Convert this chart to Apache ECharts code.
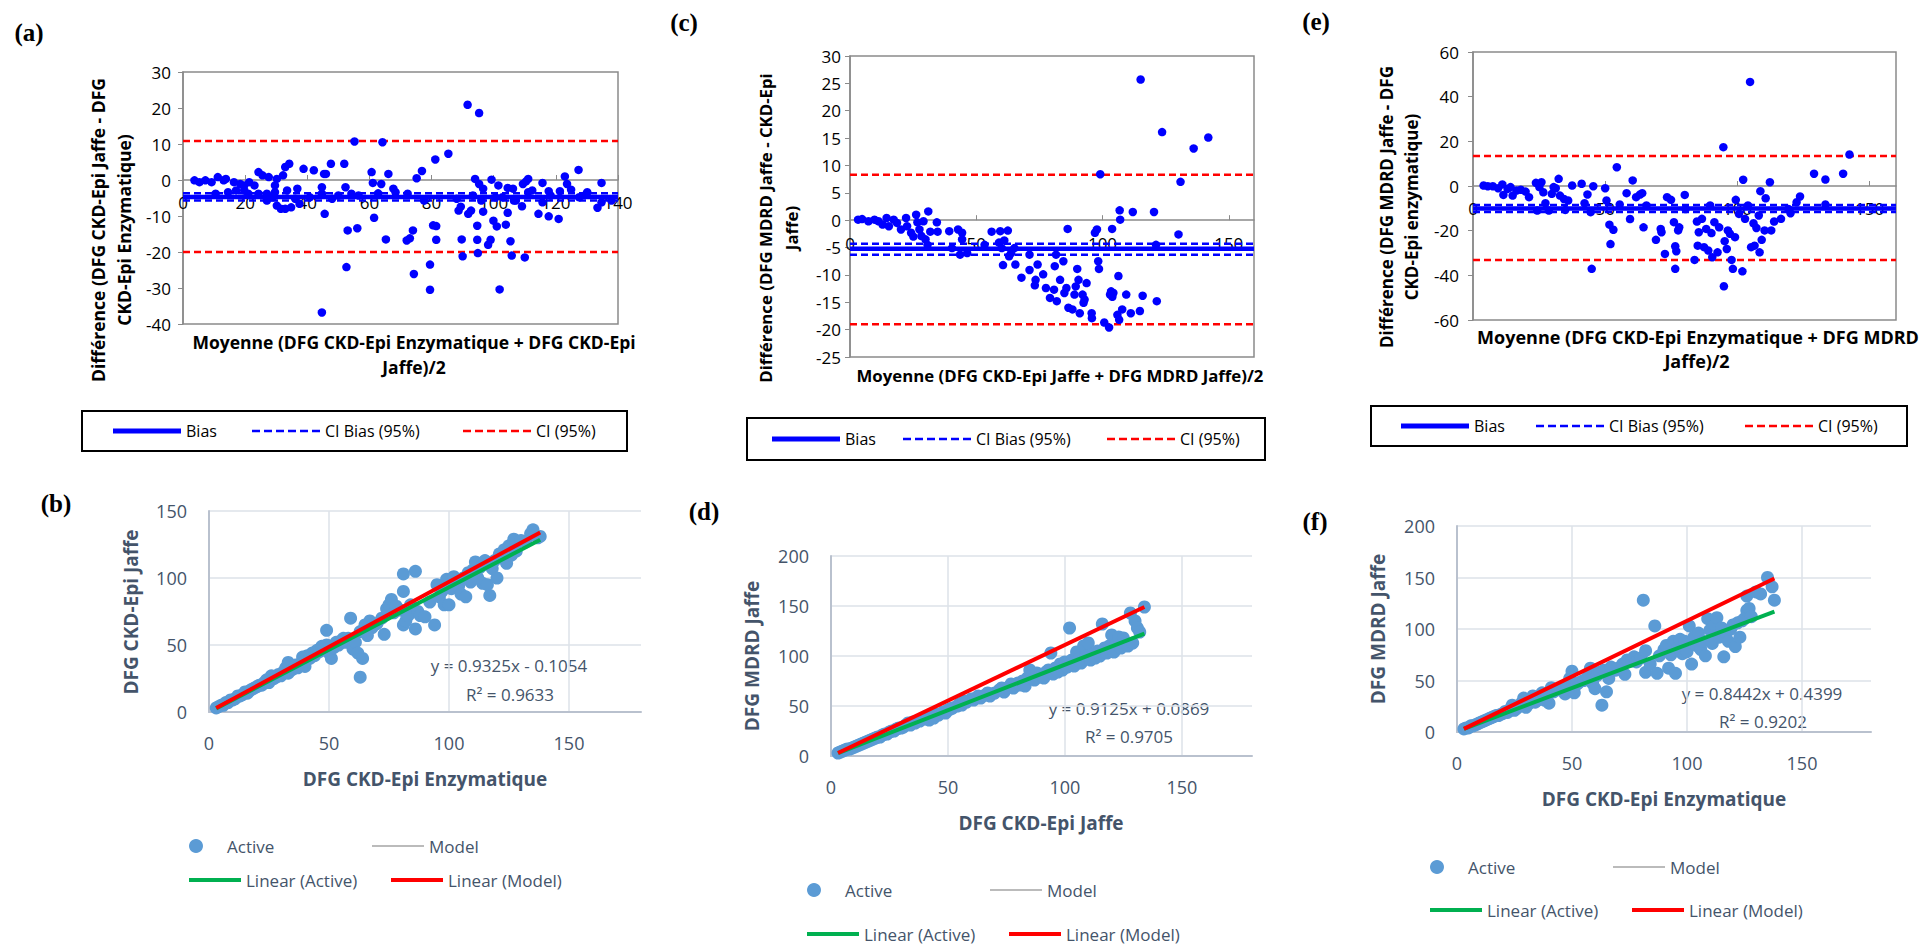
<!DOCTYPE html>
<html>
<head>
<meta charset="utf-8">
<script src="https://cdn.jsdelivr.net/npm/echarts@6.0.0/dist/echarts.min.js"></script>
<style>
  html, body { margin: 0; padding: 0; background: #fff; }
  #chart { width: 1919px; height: 944px; }
</style>
</head>
<body>
<div id="chart"></div>
<script>
// ---- Bland-Altman panels: [mean, difference] ----
const ptsA = [
  [3.7,-0.1],[5.3,-0.6],[7.2,-0.1],[9.2,-0.6],[11.2,0.8],[13.1,-0.1],[13.8,0.3],[16.4,-0.6],[18.4,-1.1],[19.7,-1.5],
  [21.3,-0.6],[23.0,-1.5],[24.3,2.2],[25.6,1.3],[27.6,0.8],[30.2,0.3],[32.2,1.3],[32.9,3.6],[34.2,4.5],[10.5,-3.8],
  [14.5,-3.4],[17.1,-2.9],[19.7,-2.9],[21.0,-3.8],[24.3,-3.8],[27.0,-3.8],[27.0,-5.7],[28.9,-4.8],[29.6,-1.5],[29.6,-3.4],
  [30.2,-7.1],[31.5,-8.0],[32.9,-8.0],[33.5,-2.9],[34.8,-7.6],[36.1,-5.2],[36.8,-2.4],[37.5,-6.6],[38.8,3.1],[42.1,2.7],
  [44.7,-2.0],[44.7,-3.8],[45.4,1.7],[46.0,1.7],[45.6,-9.4],[44.7,-36.8],[47.6,4.5],[48.0,-5.2],[51.9,4.5],[52.3,-2.0],
  [53.0,-14.0],[52.6,-24.2],[54.2,-3.8],[55.2,10.7],[56.1,-13.4],[60.7,2.2],[61.1,-0.8],[61.5,-10.5],[62.8,-3.7],[63.8,-1.1],
  [64.2,10.5],[65.3,-16.5],[66.1,1.7],[67.7,-2.4],[68.4,-3.4],[72.0,-16.8],[73.0,-16.2],[74.0,-14.0],[74.3,-26.1],[75.2,0.5],
  [76.9,2.5],[79.5,-23.5],[79.5,-30.5],[80.5,-12.6],[81.2,5.7],[81.5,-12.8],[81.5,-16.6],[85.4,7.3],[88.7,-8.5],[89.4,-7.4],
  [89.7,-16.5],[90.0,-21.2],[91.6,20.9],[91.8,-9.4],[92.7,-8.5],[93.3,-4.3],[94.0,0.3],[94.7,-12.7],[94.7,-16.6],[94.9,-20.3],
  [95.3,18.6],[95.3,-1.1],[96.6,-8.8],[96.6,-2.4],[98.2,-18.0],[99.0,-16.6],[99.3,0.1],[100.6,-4.8],[101.0,-12.9],[101.5,-1.5],
  [101.9,-30.4],[102.8,-4.8],[103.9,-12.4],[104.5,-9.1],[104.5,-2.2],[105.4,-17.0],[105.8,-21.0],[106.2,-2.4],[107.1,-5.7],[109.1,-7.3],
  [109.4,-1.1],[110.0,-21.5],[110.4,-0.4],[111.1,0.3],[111.1,-3.4],[112.4,-2.9],[114.4,-9.4],[115.7,-0.8],[117.7,-3.1],[117.7,-10.1],
  [118.3,-4.3],[120.9,-10.8],[121.3,-3.1],[122.9,1.0],[123.6,-1.1],[124.9,-2.7],[127.3,2.8],[129.7,-4.0],[133.4,-7.7],[134.7,-0.8],
  [134.7,-6.2],[40.8,-4.8],[50.0,-4.3],[56.5,-4.3],[72.3,-3.8],[77.6,-5.7],[88.1,-5.2],[96.0,-5.7],[106.5,-5.7],[115.7,-6.2],
  [127.5,-4.8],[137.9,-5.7],[130.1,-3.4],[99.9,-11.3]
];
const ptsC = [
  [3.2,0.1],[4.8,0.2],[7.3,-0.2],[9.7,0.1],[11.3,-0.2],[12.9,-0.8],[14.5,0.4],[15.4,-1.1],[17.3,0.1],[18.6,-0.5],
  [20.2,-1.7],[22.2,0.4],[22.6,-1.1],[24.2,-2.3],[25.1,-3.0],[26.2,1.0],[26.7,-0.4],[27.5,-1.7],[28.3,-2.9],[29.1,-0.2],
  [29.9,-3.5],[30.7,-4.5],[31.0,1.6],[31.8,-2.1],[34.4,-0.4],[34.7,-2.1],[39.3,-2.0],[40.4,-5.1],[42.8,-1.7],[43.6,-6.3],
  [44.4,-2.3],[44.4,-3.5],[46.4,-6.0],[53.3,-4.5],[56.1,-2.1],[59.0,-4.1],[59.5,-2.0],[60.1,-5.1],[60.6,-8.2],[61.1,-3.7],
  [62.5,-1.9],[63.0,-6.6],[63.8,-6.0],[65.1,-5.1],[65.5,-8.1],[67.9,-10.5],[71.1,-6.3],[71.1,-9.1],[73.2,-11.9],[73.5,-10.9],
  [74.3,-8.1],[76.5,-9.9],[77.6,-12.4],[79.2,-14.2],[80.8,-12.7],[81.1,-8.4],[81.6,-6.3],[81.9,-14.8],[83.2,-10.9],[84.5,-7.5],
  [84.9,-13.3],[85.7,-12.4],[86.2,-1.6],[86.5,-16.0],[88.1,-16.3],[88.9,-13.6],[89.4,-12.1],[90.0,-8.9],[90.5,-10.9],[91.0,-17.0],
  [92.1,-13.6],[92.5,-15.1],[92.9,-14.5],[93.7,-11.5],[95.7,-17.0],[95.8,-17.9],[97.0,-2.3],[97.8,-1.7],[98.3,-7.5],[98.6,-8.9],
  [99.1,8.4],[100.7,-18.7],[102.6,-19.6],[103.0,-13.6],[103.4,-13.0],[103.8,-1.6],[103.9,-14.0],[104.3,-13.3],[105.9,-17.3],[106.3,-10.2],
  [106.6,-18.2],[106.8,1.8],[107.0,0.1],[107.8,-16.3],[109.4,-13.6],[111.2,-17.0],[112.0,1.5],[114.8,-16.6],[115.1,25.7],[115.9,-13.8],
  [120.4,1.5],[121.2,-4.5],[121.5,-14.8],[123.6,16.1],[130.1,-2.6],[130.9,7.0],[136.1,13.1],[141.9,15.1]
];
const ptsE = [
  [4.0,0.2],[5.6,-0.1],[7.5,-0.1],[9.5,-1.0],[11.1,0.7],[11.5,-4.0],[13.1,-1.3],[14.2,-0.5],[15.0,-4.3],[16.5,-2.0],
  [18.1,-1.7],[19.9,-2.5],[21.2,-5.0],[23.8,1.4],[25.1,-0.5],[25.9,1.7],[26.6,-2.8],[27.4,-7.7],[28.7,-11.0],[29.8,-3.5],
  [30.5,-0.5],[31.3,-1.0],[32.4,3.2],[32.9,-4.3],[34.4,-5.8],[34.9,-10.7],[36.0,-6.5],[37.5,0.2],[41.1,1.0],[42.2,-7.7],
  [43.3,-3.8],[44.5,-11.7],[44.9,-37.1],[45.5,-0.1],[50.0,-1.0],[50.5,-6.5],[51.6,-17.3],[52.0,-26.0],[53.1,-19.6],[54.4,8.4],
  [55.5,-8.3],[58.1,-3.2],[59.4,-14.8],[60.4,2.5],[61.7,-5.0],[63.2,-3.8],[64.0,-3.2],[64.5,-18.5],[65.6,-8.7],[69.2,-24.1],
  [71.0,-19.2],[71.3,-20.7],[72.6,-30.4],[73.4,-5.0],[74.9,-6.2],[76.0,-16.2],[76.5,-27.0],[76.5,-37.1],[76.9,-29.2],[77.6,-19.9],
  [78.0,-18.5],[80.1,-4.0],[83.8,-33.1],[84.7,-15.9],[85.0,-26.7],[85.4,-20.7],[86.6,-14.7],[87.4,-27.4],[88.2,-19.2],[89.0,-28.9],
  [89.7,-8.7],[90.2,-21.1],[90.5,-31.9],[91.3,-16.2],[92.5,-29.7],[93.1,-18.5],[94.7,17.4],[94.9,-44.9],[95.2,-24.7],[96.0,-28.2],
  [96.4,-19.9],[97.2,-21.4],[97.8,-33.1],[98.3,-37.1],[99.1,-22.9],[99.4,-6.2],[100.6,-12.5],[101.9,-38.2],[102.2,2.8],[102.9,-14.7],
  [104.0,-8.7],[104.8,46.6],[105.2,-27.4],[106.1,-16.7],[106.5,-26.7],[107.2,-18.8],[108.1,-13.2],[108.4,-29.7],[108.7,-2.3],[109.2,-24.1],
  [110.3,-19.9],[110.7,-5.5],[112.3,1.7],[112.8,-19.9],[113.9,-15.9],[116.5,-14.7],[120.1,-12.2],[122.4,-7.3],[123.7,-4.7],[129.0,5.5],
  [133.3,2.9],[133.3,-8.3],[140.0,5.5],[142.4,14.1],[24.3,-11.0],[80.4,-10.3],[119.3,-10.3]
];

// bias, CI of bias and limits of agreement
const biasA = -4.7, ciBiasA = [-5.7, -3.7], loaA = [-20.0, 10.8];
const biasC = -5.2, ciBiasC = [-6.3, -4.3], loaC = [-19.0, 8.3];
const biasE = -10.1, ciBiasE = [-11.6, -8.5], loaE = [-33.1, 13.4];

// axis ranges (min, max, step)
const axA = { x: [0, 140, 20], y: [-40, 30, 10] };
const axC = { x: [0, 160, 50], y: [-25, 30, 5] };
const axE = { x: [0, 160, 50], y: [-60, 60, 20] };

// ---- Correlation panels: [x, y] ----
const ptsB = [
  [3,3],[4,4],[5,5],[6,5],[7,7],[8,7],[9,9],[10,9],[11,10],[12,12],[13,12],[14,13],[15,15],[16,14],[17,16],[18,17],
  [19,18],[20,19],[21,20],[22,20],[23,22],[24,24],[25,22],[26,27],[27,25],[28,26],[29,28],[30,27],[31,30],[32,33],
  [33,37],[33,29],[34,31],[35,32],[36,35],[37,33],[38,36],[39,41],[40,34],[40,38],[41,42],[42,40],[43,44],[44,42],
  [45,46],[46,45],[47,49],[48,47],[49,50],[49,61],[50,44],[51,40],[52,48],[53,52],[54,50],[55,53],[56,55],[57,52],
  [58,55],[59,70],[60,47],[61,52],[62,44],[63,26],[63,60],[64,40],[65,65],[66,57],[67,68],[68,63],[70,66],[72,70],
  [73,58],[74,77],[75,80],[76,84],[77,74],[78,79],[80,76],[81,103],[81,90],[81,65],[82,68],[83,72],[84,80],[86,105],
  [86,62],[87,75],[88,72],[90,71],[92,82],[94,65],[95,95],[96,86],[97,90],[98,80],[99,99],[100,80],[101,92],[102,101],
  [103,96],[104,94],[105,88],[106,100],[107,86],[108,104],[109,97],[110,106],[111,112],[112,100],[113,108],[114,96],
  [115,113],[116,95],[117,87],[118,107],[119,113],[120,100],[121,118],[122,115],[123,121],[124,111],[125,124],[126,117],
  [127,129],[128,120],[130,128],[132,127],[134,133],[135,136],[137,130],[138,131]
];
const ptsD = [
  [3,3],[4,4],[5,5],[6,6],[7,7],[8,7],[9,8],[10,9],[11,10],[12,11],[13,12],[14,13],[15,14],[16,15],[17,16],[18,17],
  [19,18],[20,19],[21,19],[22,21],[23,22],[24,22],[25,24],[26,25],[27,25],[28,27],[29,28],[30,28],[31,29],[32,31],
  [33,33],[34,31],[35,34],[36,33],[37,35],[38,35],[40,37],[41,39],[42,36],[43,40],[44,38],[45,42],[46,41],[48,44],
  [49,43],[50,46],[51,47],[52,48],[54,50],[55,52],[56,51],[57,55],[58,54],[60,57],[61,56],[62,58],[63,60],[64,58],
  [66,61],[67,63],[68,60],[70,63],[72,66],[73,68],[74,64],[76,69],[77,72],[78,68],[80,73],[81,71],[82,75],[83,70],
  [84,78],[85,86],[86,80],[87,76],[88,83],[89,79],[90,81],[91,78],[92,84],[93,86],[94,103],[95,82],[96,88],[97,84],
  [98,92],[99,86],[100,94],[101,89],[102,128],[103,96],[104,90],[105,104],[106,97],[107,93],[108,110],[109,100],[110,113],
  [111,96],[112,102],[113,98],[114,105],[115,100],[116,132],[117,108],[118,103],[119,110],[120,121],[121,104],[122,112],
  [123,119],[124,108],[125,118],[127,110],[128,143],[129,113],[130,135],[131,128],[132,124],[134,149]
];
const ptsF = [
  [3,3],[4,4],[5,4],[6,6],[7,6],[8,7],[9,8],[10,9],[11,10],[12,11],[13,12],[14,13],[15,14],[16,15],[17,16],[18,16],
  [19,17],[20,18],[21,20],[22,19],[23,22],[24,26],[25,21],[26,23],[27,25],[28,28],[29,33],[30,24],[31,27],[32,30],
  [33,35],[34,29],[35,31],[36,33],[37,38],[38,31],[39,36],[40,28],[41,43],[42,39],[44,41],[46,44],[47,37],[48,46],
  [49,52],[50,59],[51,38],[52,46],[53,48],[55,50],[57,54],[58,62],[59,47],[60,42],[61,55],[62,58],[63,26],[64,60],
  [65,39],[66,52],[67,63],[69,60],[70,62],[72,66],[73,56],[74,70],[76,69],[77,73],[78,68],[80,72],[81,128],[82,58],
  [82,79],[84,66],[86,103],[87,57],[88,74],[90,80],[91,84],[92,62],[93,75],[94,88],[95,57],[96,82],[97,90],[98,76],
  [99,88],[100,78],[101,103],[102,66],[103,92],[104,84],[105,96],[106,80],[107,88],[108,74],[109,110],[110,99],[111,86],
  [112,104],[113,111],[114,92],[115,101],[116,73],[117,96],[118,88],[119,100],[120,104],[121,83],[122,106],[123,92],
  [124,108],[125,110],[126,118],[126,132],[127,120],[128,112],[130,136],[132,134],[135,150],[137,141],[138,128]
];

// "Model" line end points and the fitted line of "Active"
const modelB = [[3, 3], [138, 134]];
const modelD = [[3, 3], [134, 149]];
const modelF = [[3, 3], [138, 149]];
const fitB = { slope: 0.9325, intercept: -0.1054, r2: 0.9633 };
const fitD = { slope: 0.9125, intercept: 0.0869, r2: 0.9705 };
const fitF = { slope: 0.8442, intercept: 0.4399, r2: 0.9202 };
const yMaxScatter = { b: 150, d: 200, f: 200 };

const FONT = '"Open Sans", "Noto Sans", sans-serif';
const SLATE = '#44546a';
const FRAME = '#8a8a8a';

function dashIcon(n, dash, gap, h) {
  let p = 'path://';
  for (let i = 0; i < n; i++) {
    const x = i * (dash + gap);
    p += 'M' + x + ',0h' + dash + 'v' + h + 'h-' + dash + 'z';
  }
  return p;
}
const ICON_BIAS = 'path://M0,0h68v5h-68z';
const ICON_DASH = dashIcon(6, 8, 4, 2.5);
const ICON_THIN = 'path://M0,0h52v1.5h-52z';
const ICON_FIT = 'path://M0,0h52v4h-52z';

const grids = [];
const xAxes = [];
const yAxes = [];
const series = [];
const legends = [];

function baPanel(box, ax, pts, bias, ciBias, loa, lab, leg) {
  const i = grids.length;
  grids.push({ left: box[0], top: box[1], width: box[2], height: box[3], show: true,
    borderColor: FRAME, borderWidth: 1.5, backgroundColor: 'transparent' });
  // the horizontal axis sits on the zero line, as in the original
  const zeroOffset = -box[3] * (0 - ax.y[0]) / (ax.y[1] - ax.y[0]);
  xAxes.push({ gridIndex: i, type: 'value', position: 'bottom', offset: zeroOffset,
    min: ax.x[0], max: ax.x[1], interval: ax.x[2],
    axisLine: { show: true, onZero: false, lineStyle: { color: FRAME, width: 1.5 } },
    axisTick: { show: true, inside: true, length: 5, lineStyle: { color: FRAME } },
    axisLabel: { margin: lab.xm, color: '#000', fontFamily: FONT, fontSize: lab.fs, showMaxLabel: ax.x[1] % ax.x[2] === 0 },
    splitLine: { show: false } });
  yAxes.push({ gridIndex: i, type: 'value', min: ax.y[0], max: ax.y[1], interval: ax.y[2],
    axisLine: { show: true, onZero: false, lineStyle: { color: FRAME, width: 1.5 } },
    axisTick: { show: true, length: 5, lineStyle: { color: FRAME } },
    axisLabel: { margin: lab.ym, color: '#000', fontFamily: FONT, fontSize: lab.fs },
    splitLine: { show: false } });
  const xr = [ax.x[0], ax.x[1]];
  const hline = (v) => xr.map((x) => [x, v]);
  const lineSeries = (name, v, color, width, type, z) => ({
    type: 'line', name, xAxisIndex: i, yAxisIndex: i, data: hline(v), showSymbol: false, symbol: 'none',
    itemStyle: { color }, lineStyle: { color, width, type }, z, silent: true
  });
  series.push(lineSeries('CI (95%)', loa[0], '#ff0000', 2.5, [7, 4], 2));
  series.push(lineSeries('CI (95%)', loa[1], '#ff0000', 2.5, [7, 4], 2));
  series.push(lineSeries('Bias', bias, '#0000ff', 4.5, 'solid', 3));
  series.push(lineSeries('CI Bias (95%)', ciBias[0], '#0000ff', 2.5, [7, 4], 3));
  series.push(lineSeries('CI Bias (95%)', ciBias[1], '#0000ff', 2.5, [7, 4], 3));
  series.push({ type: 'scatter', name: 'diff' + i, xAxisIndex: i, yAxisIndex: i, data: pts,
    symbolSize: 8.5, itemStyle: { color: '#0000ff', opacity: 1 }, z: 5 });
  legends.push({ left: leg.left, top: leg.top, orient: 'horizontal', selectedMode: false,
    padding: [leg.pv, leg.pr, leg.pv, leg.pl], itemGap: 0, itemWidth: 68, itemHeight: 14,
    borderColor: '#000', borderWidth: 2, itemStyle: { borderWidth: 0 },
    textStyle: { fontFamily: FONT, fontSize: 16, color: '#000', lineHeight: 20 },
    data: [
      { name: 'Bias', icon: ICON_BIAS, textStyle: { width: leg.w[0] } },
      { name: 'CI Bias (95%)', icon: ICON_DASH, textStyle: { width: leg.w[1] } },
      { name: 'CI (95%)', icon: ICON_DASH, textStyle: { width: leg.w[2] } }
    ] });
}

function corrPanel(box, yMax, pts, model, fit, leg) {
  const i = grids.length;
  grids.push({ left: box[0], top: box[1], width: box[2], height: box[3] });
  xAxes.push({ gridIndex: i, type: 'value', min: 0, max: 180, interval: 50,
    axisLine: { show: true, lineStyle: { color: '#b9c1ce', width: 2 } },
    axisTick: { show: false },
    axisLabel: { margin: 22, color: SLATE, fontFamily: FONT, fontSize: 18, showMaxLabel: false },
    splitLine: { show: true, lineStyle: { color: ['#dde2e9', '#dde2e9', '#dde2e9', '#dde2e9', 'rgba(0,0,0,0)'], width: 1.5 } } });
  yAxes.push({ gridIndex: i, type: 'value', min: 0, max: yMax, interval: 50,
    axisLine: { show: true, lineStyle: { color: '#b9c1ce', width: 2 } },
    axisTick: { show: false },
    axisLabel: { margin: 22, color: SLATE, fontFamily: FONT, fontSize: 18 },
    splitLine: { show: true, lineStyle: { color: '#dde2e9', width: 1.5 } } });
  const xs = pts.map((p) => p[0]);
  const x0 = Math.min(...xs), x1 = Math.max(...xs);
  const fitLine = [x0, x1].map((x) => [x, fit.slope * x + fit.intercept]);
  series.push({ type: 'scatter', name: 'Active', xAxisIndex: i, yAxisIndex: i, data: pts,
    symbolSize: 13, itemStyle: { color: '#5b9bd5', opacity: 1 }, z: 2 });
  series.push({ type: 'line', name: 'Model', xAxisIndex: i, yAxisIndex: i, data: model, symbol: 'none',
    itemStyle: { color: '#a5a5a5' }, lineStyle: { color: '#a5a5a5', width: 1.5 }, z: 3, silent: true });
  series.push({ type: 'line', name: 'Linear (Active)', xAxisIndex: i, yAxisIndex: i, data: fitLine, symbol: 'none',
    itemStyle: { color: '#00b050' }, lineStyle: { color: '#00b050', width: 4 }, z: 4, silent: true });
  series.push({ type: 'line', name: 'Linear (Model)', xAxisIndex: i, yAxisIndex: i, data: model, symbol: 'none',
    itemStyle: { color: '#ff0000' }, lineStyle: { color: '#ff0000', width: 4 }, z: 5, silent: true });
  const common = { orient: 'horizontal', selectedMode: false, padding: 0, itemGap: 5, itemWidth: 52, itemHeight: 14,
    itemStyle: { borderWidth: 0 }, textStyle: { fontFamily: FONT, fontSize: 17, color: SLATE, lineHeight: 22 } };
  legends.push(Object.assign({}, common, { left: leg.left, top: leg.row1 - 11,
    data: [
      { name: 'Active', icon: 'circle', textStyle: { width: 140 } },
      { name: 'Model', icon: ICON_THIN, textStyle: { width: 80 } }
    ] }));
  legends.push(Object.assign({}, common, { left: leg.left, top: leg.row2 - 11,
    data: [
      { name: 'Linear (Active)', icon: ICON_FIT, textStyle: { width: 140 } },
      { name: 'Linear (Model)', icon: ICON_FIT, textStyle: { width: 150 } }
    ] }));
}

baPanel([183, 72, 435, 252], axA, ptsA, biasA, ciBiasA, loaA, { xm: 14, ym: 12, fs: 17 },
  { left: 82, top: 411, pv: 10, pl: 31, pr: 21, w: [66, 138, 70] });
baPanel([850, 56, 404, 301], axC, ptsC, biasC, ciBiasC, loaC, { xm: 15, ym: 9, fs: 17 },
  { left: 747, top: 418, pv: 11, pl: 25, pr: 15, w: [58, 131, 70] });
baPanel([1473, 52, 423, 268], axE, ptsE, biasE, ciBiasE, loaE, { xm: 14, ym: 14, fs: 17 },
  { left: 1371, top: 406, pv: 10, pl: 30, pr: 19, w: [62, 136, 70] });

corrPanel([209, 511, 432, 201], yMaxScatter.b, ptsB, modelB, fitB, { left: 189, row1: 846, row2: 880 });
corrPanel([831, 556, 421, 200], yMaxScatter.d, ptsD, modelD, fitD, { left: 807, row1: 890, row2: 934 });
corrPanel([1457, 526, 414, 206], yMaxScatter.f, ptsF, modelF, fitF, { left: 1430, row1: 867, row2: 910 });

function txt(x, y, text, font, fill, rot) {
  return { type: 'text', x, y, rotation: rot || 0, silent: true,
    style: { text, font, fill, align: 'center', verticalAlign: 'middle', textAlign: 'center', textVerticalAlign: 'middle' } };
}
const UP = Math.PI / 2;
const PANEL_FONT = 'bold 25px "Liberation Serif", "DejaVu Serif", serif';
const TITLE_A = 'bold 17.5px ' + FONT;
const TITLE_C = 'bold 16.8px ' + FONT;
const TITLE_EX = 'bold 18px ' + FONT;
const TITLE_EY = 'bold 17px ' + FONT;
const SC_TITLE = 'bold 19px ' + FONT;
const EQ_FONT = '17px ' + FONT;
const eqText = (f) => 'y = ' + f.slope.toFixed(4) + 'x ' + (f.intercept < 0 ? '- ' : '+ ') + Math.abs(f.intercept).toFixed(4);
const r2Text = (f) => 'R\u00b2 = ' + f.r2.toFixed(4);

const graphics = [
  txt(29, 32, '(a)', PANEL_FONT, '#000'),
  txt(56, 503, '(b)', PANEL_FONT, '#000'),
  txt(684, 22, '(c)', PANEL_FONT, '#000'),
  txt(704, 511, '(d)', PANEL_FONT, '#000'),
  txt(1316, 21, '(e)', PANEL_FONT, '#000'),
  txt(1315, 521, '(f)', PANEL_FONT, '#000'),
  // (a)
  txt(98, 230, 'Différence (DFG CKD-Epi Jaffe - DFG', TITLE_A, '#000', UP),
  txt(124, 230, 'CKD-Epi Enzymatique)', TITLE_A, '#000', UP),
  txt(414, 342, 'Moyenne (DFG CKD-Epi Enzymatique + DFG CKD-Epi', TITLE_A, '#000'),
  txt(414, 367, 'Jaffe)/2', TITLE_A, '#000'),
  // (c)
  txt(765, 228, 'Différence (DFG MDRD Jaffe - CKD-Epi', TITLE_C, '#000', UP),
  txt(791, 228, 'Jaffe)', TITLE_C, '#000', UP),
  txt(1060, 375, 'Moyenne (DFG CKD-Epi Jaffe + DFG MDRD Jaffe)/2', TITLE_C, '#000'),
  // (e)
  txt(1386, 207, 'Différence (DFG MDRD Jaffe - DFG', TITLE_EY, '#000', UP),
  txt(1411, 207, 'CKD-Epi enzymatique)', TITLE_EY, '#000', UP),
  txt(1698, 337, 'Moyenne (DFG CKD-Epi Enzymatique + DFG MDRD', TITLE_EX, '#000'),
  txt(1697, 361, 'Jaffe)/2', TITLE_EX, '#000'),
  // (b)
  txt(425, 779, 'DFG CKD-Epi Enzymatique', SC_TITLE, SLATE),
  txt(131, 612, 'DFG CKD-Epi Jaffe', SC_TITLE, SLATE, UP),
  txt(509, 665, eqText(fitB), EQ_FONT, SLATE),
  txt(510, 694, r2Text(fitB), EQ_FONT, SLATE),
  // (d)
  txt(1041, 823, 'DFG CKD-Epi Jaffe', SC_TITLE, SLATE),
  txt(752, 656, 'DFG MDRD Jaffe', SC_TITLE, SLATE, UP),
  txt(1129, 708, eqText(fitD), EQ_FONT, SLATE),
  txt(1129, 736, r2Text(fitD), EQ_FONT, SLATE),
  // (f)
  txt(1664, 799, 'DFG CKD-Epi Enzymatique', SC_TITLE, SLATE),
  txt(1378, 629, 'DFG MDRD Jaffe', SC_TITLE, SLATE, UP),
  txt(1762, 693, eqText(fitF), EQ_FONT, SLATE),
  txt(1763, 721, r2Text(fitF), EQ_FONT, SLATE)
];

const chart = echarts.init(document.getElementById('chart'), null, { renderer: 'svg', width: 1919, height: 944 });
chart.setOption({
  animation: false,
  backgroundColor: '#ffffff',
  textStyle: { fontFamily: FONT },
  grid: grids,
  xAxis: xAxes,
  yAxis: yAxes,
  legend: legends,
  series: series,
  graphic: graphics
});
</script>
</body>
</html>
